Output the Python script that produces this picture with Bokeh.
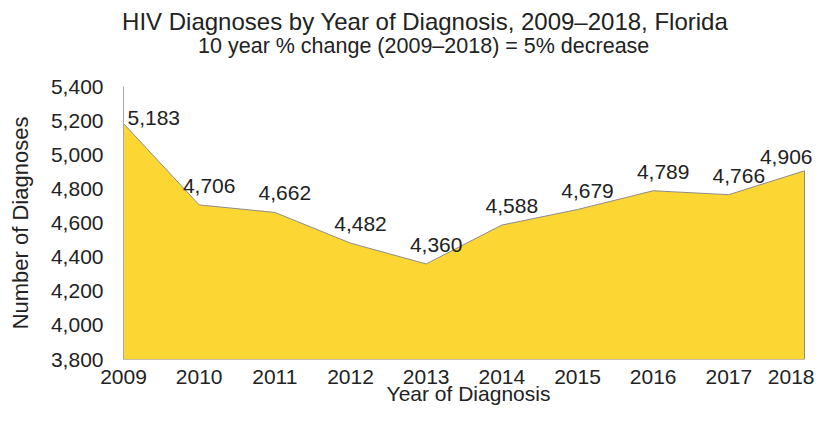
from bokeh.plotting import figure
from bokeh.models import ColumnDataSource, FixedTicker, NumeralTickFormatter, LinearAxis
from bokeh.core.properties import value
from bokeh.embed import file_html
from bokeh.resources import INLINE

years = [2009, 2010, 2011, 2012, 2013, 2014, 2015, 2016, 2017, 2018]
diagnoses = [5183, 4706, 4662, 4482, 4360, 4588, 4679, 4789, 4766, 4906]
y_ticks = [3800, 4000, 4200, 4400, 4600, 4800, 5000, 5200, 5400]
title_text = "HIV Diagnoses by Year of Diagnosis, 2009\u20132018, Florida"
subtitle_text = "10 year % change (2009\u20132018) = 5% decrease"
x_label = "Year of Diagnosis"
y_label = "Number of Diagnoses"

FONT = "Liberation Sans"
TXT = "#222222"
base = y_ticks[0]

W, H = 814, 407
LEFT, RIGHT, TOP = 123, 1, 86
x_start, x_end = years[0], years[-1] + 0.119
frame_center = LEFT + (W - LEFT - RIGHT) / 2
title_center = 424
shift = frame_center - title_center  # titles sit left of the frame's centre

p = figure(width=W, height=H, output_backend="svg", toolbar_location=None,
           x_range=(x_start, x_end), y_range=(y_ticks[0], y_ticks[-1]),
           min_border_left=LEFT, min_border_right=RIGHT, min_border_top=TOP, min_border_bottom=40,
           title=None)
p.outline_line_color = None
p.grid.grid_line_color = None
p.background_fill_color = "white"
p.border_fill_color = "white"

# area
px = list(years) + [years[-1], years[0]]
py = list(diagnoses) + [base, base]
p.patch(px, py, fill_color="#FCD633", line_color="#8C8C8C", line_width=1)

# data labels
n = len(years)
aligns = ["left"] + ["center"] * (n - 2) + ["right"]
xoffs = [4] + [10] * (n - 2) + [8]
yoffs = [-6] + [-19] * (n - 2) + [-14]
src = ColumnDataSource(dict(x=years, y=diagnoses, t=[f"{v:,}" for v in diagnoses],
                            a=aligns, dx=xoffs, dy=yoffs))
p.text(x="x", y="y", text="t", source=src, text_align="a", x_offset="dx", y_offset="dy",
       text_baseline="middle", text_font=value(FONT), text_font_size="21px", text_color=TXT)

# axes
p.xaxis.ticker = FixedTicker(ticks=years)
p.yaxis.ticker = FixedTicker(ticks=y_ticks)
p.yaxis.formatter = NumeralTickFormatter(format="0,0")
for ax in (p.xaxis[0], p.yaxis[0]):
    ax.major_tick_line_color = None
    ax.minor_tick_line_color = None
    ax.major_tick_out = 0
    ax.major_tick_in = 0
    ax.major_label_text_font = FONT
    ax.major_label_text_font_size = "21px"
    ax.major_label_text_color = TXT
    ax.axis_label_text_font = FONT
    ax.axis_label_text_font_style = "normal"
    ax.axis_label_text_color = TXT
p.xaxis.axis_line_color = None
p.yaxis.axis_line_color = "#A6A6A6"
p.yaxis.axis_label = y_label
p.yaxis.axis_label_text_font_size = "22px"
p.yaxis.major_label_standoff = 20
p.yaxis.axis_label_standoff = 15
p.xaxis.axis_label = x_label
p.xaxis.axis_label_text_font_size = "21px"
p.xaxis.major_label_standoff = 10
p.xaxis.axis_label_standoff = -5


def padded(text, size_px):
    # trailing no-break spaces move a frame-centred label to the left
    nbsp_w = 0.278 * size_px
    return text + "\u00a0" * round(2 * shift / nbsp_w)


def title_axis(text, size_px, standoff):
    return LinearAxis(ticker=FixedTicker(ticks=[]),
                      axis_line_color=None, major_tick_line_color=None, minor_tick_line_color=None,
                      major_tick_out=0, major_tick_in=0, minor_tick_out=0, minor_tick_in=0,
                      major_label_standoff=0, axis_label=padded(text, size_px),
                      axis_label_standoff=standoff,
                      axis_label_text_font=FONT, axis_label_text_font_size=f"{size_px}px",
                      axis_label_text_font_style="normal", axis_label_text_color=TXT)


p.add_layout(title_axis(subtitle_text, 21.5, 29), "above")
p.add_layout(title_axis(title_text, 24, -4), "above")

open("out.html", "w").write(file_html(p, INLINE))
